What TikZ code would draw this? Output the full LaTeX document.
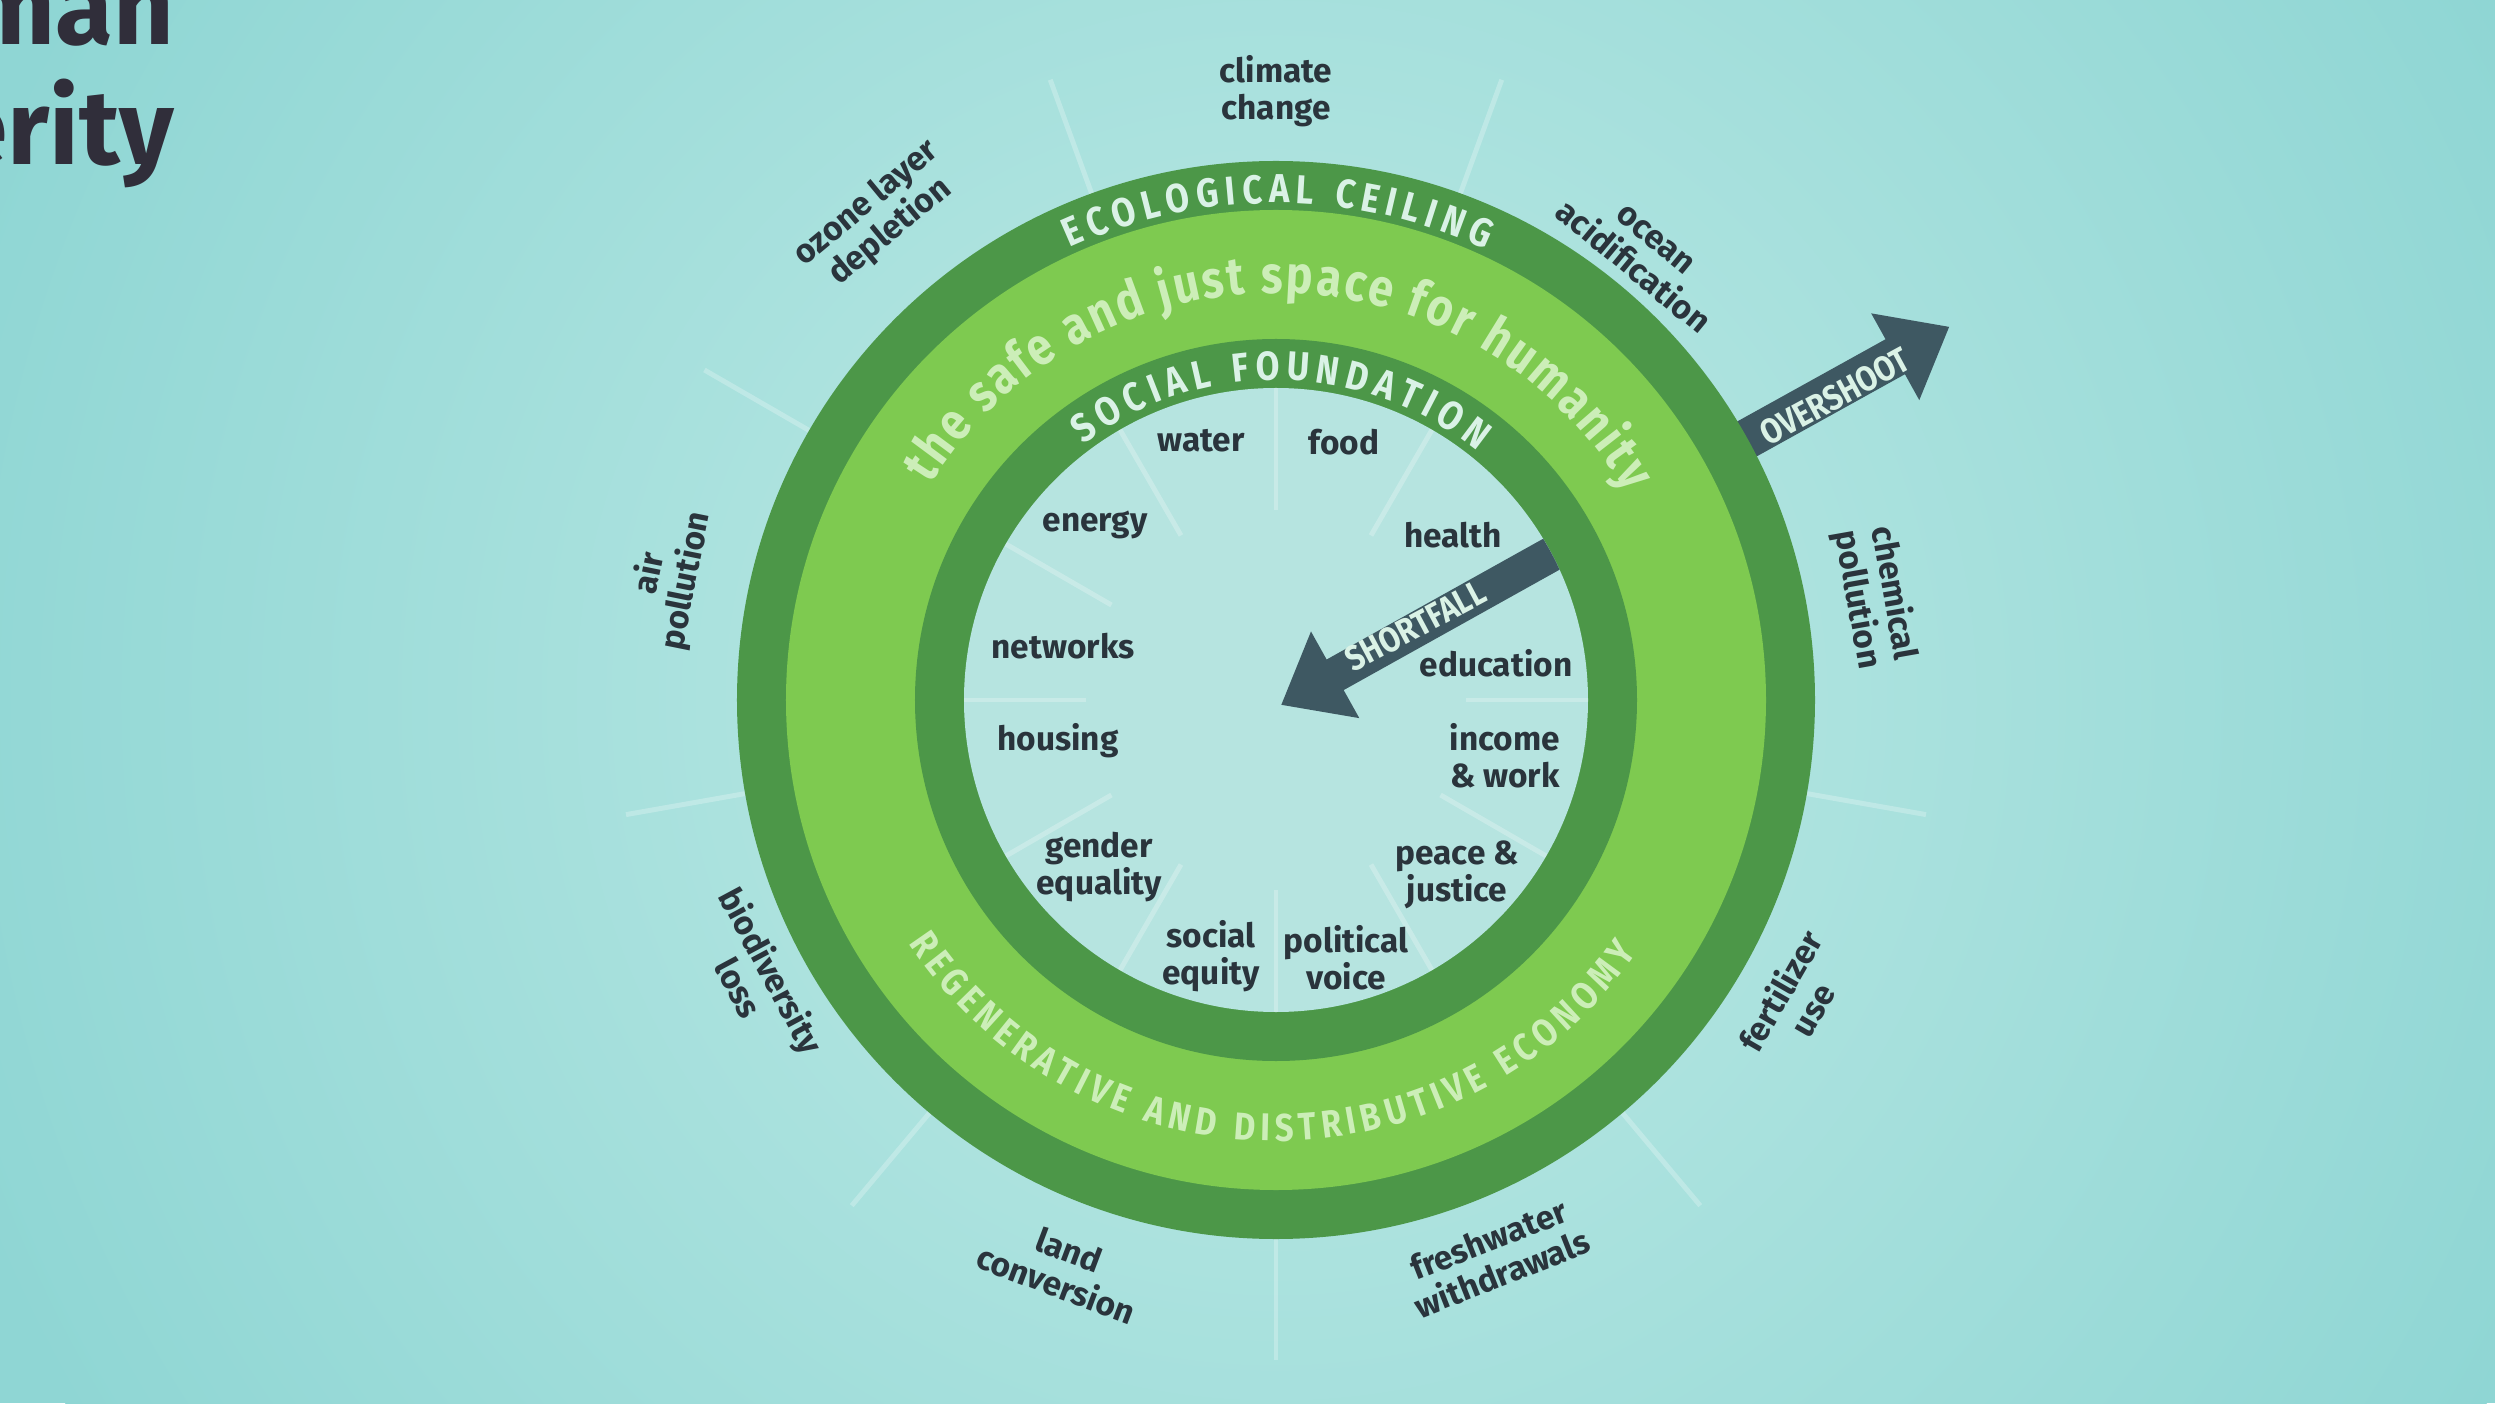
\documentclass[tikz,border=0pt]{standalone}
\usepackage{fontspec}
\setmainfont{Fira Sans}
\newfontfamily\ringfont{Fira Sans}[FakeStretch=0.85]
\usetikzlibrary{arrows.meta,decorations.text}
\definecolor{bgcyan}{RGB}{143,214,212}
\definecolor{glowcyan}{RGB}{190,234,229}
\definecolor{holecyan}{RGB}{182,228,224}
\definecolor{darkleaf}{RGB}{76,151,72}
\definecolor{lightleaf}{RGB}{126,202,80}
\definecolor{inktext}{RGB}{42,52,60}
\definecolor{ringtext}{RGB}{218,242,230}
\definecolor{safetext}{RGB}{204,238,184}
\definecolor{arrowslate}{RGB}{62,88,98}
\definecolor{titleink}{RGB}{48,46,58}
\tikzset{
  lbl/.style={font=\bfseries\fontsize{9.5}{10.5}\selectfont, text=inktext, align=center, inner sep=1pt},
  ray/.style={white, opacity=0.25, line width=1.4pt},
  fatarrow/.style={draw=arrowslate, -{Triangle[width=0.95cm,length=0.62cm]}},
  arrowtext/.style={font=\ringfont\bfseries\fontsize{10}{10}\selectfont, text=ringtext, inner sep=0pt},
  titletext/.style={font=\bfseries\fontsize{30}{30}\selectfont, text=titleink, anchor=base east, inner sep=0pt}
}
\begin{document}
\begin{tikzpicture}
  % page, centre of the doughnut at (0,0)
  \useasboundingbox (-12.76,-7.03) rectangle (12.19,7.00);
  \fill[bgcyan] (-12.76,-7.03) rectangle (12.19,7.00);
  \shade[inner color=glowcyan, outer color=bgcyan] (0,0) circle (14);
  % cut-off slide title
  \node[titletext] (ttlA) at (-11.01,6.55) {man};
  \node[titletext] (ttlB) at (-11.01,5.35) {erity};
  % faint dividers between the ceiling labels
  \foreach \a in {70,30,...,-250}
    \draw[ray] (\a:5.2) -- (\a:6.6);
  % overshoot arrow (tail hidden under the ring)
  \coordinate (ovA) at (29:5.1);
  \coordinate (ovB) at (29:7.7);
  \draw[fatarrow, line width=0.4cm] (ovA) -- (ovB);
  % the doughnut
  \coordinate (ctr) at (0,0);
  \fill[darkleaf] (ctr) circle (5.39);
  \fill[lightleaf] (ctr) circle (4.90);
  \fill[darkleaf] (ctr) circle (3.61);
  \fill[holecyan] (ctr) circle (3.12);
  % faint dividers between the social labels
  \foreach \a in {0,30,...,330}
    \draw[ray] (\a:1.9) -- (\a:3.12);
  % shortfall arrow
  \begin{scope}
    \clip (ctr) circle (3.12);
    \coordinate (sfA) at (28:3.4);
    \coordinate (sfB) at (0.05,-0.05);
    \draw[fatarrow, line width=0.35cm] (sfA) -- (sfB);
  \end{scope}
  \node[arrowtext, rotate=28] (sfTxt) at (28:1.58) {SHORTFALL};
  \node[arrowtext, rotate=28.5] (ovTxt) at (28.5:6.36) {OVERSHOOT};
  % ring titles
  \path[decorate, decoration={text along path, text align={fit to path}, text color=ringtext,
      text={|\ringfont\bfseries\fontsize{11.5}{11.5}\selectfont|ECOLOGICAL CEILING}}]
    (114.5:4.97) arc[start angle=114.5, end angle=65, radius=4.97];
  \path[decorate, decoration={text along path, text align={fit to path}, text color=safetext,
      text={|\ringfont\bfseries\fontsize{15}{15}\selectfont|the safe and just space for humanity}}]
    (148:4.07) arc[start angle=148, end angle=30.6, radius=4.07];
  \path[decorate, decoration={text along path, text align={fit to path}, text color=ringtext,
      text={|\ringfont\bfseries\fontsize{11.5}{11.5}\selectfont|SOCIAL FOUNDATION}}]
    (127:3.2) arc[start angle=127, end angle=51, radius=3.2];
  \path[decorate, decoration={text along path, text align={fit to path}, text color=safetext,
      text={|\ringfont\bfseries\fontsize{11}{11}\selectfont|REGENERATIVE AND DISTRIBUTIVE ECONOMY}}]
    (-146.5:4.41) arc[start angle=-146.5, end angle=-35, radius=4.41];
  % social foundation
  \node[lbl] (water) at (-0.75,2.59) {water};
  \node[lbl] (food) at (0.68,2.58) {food};
  \node[lbl] (health) at (1.77,1.65) {health};
  \node[lbl] (educ) at (2.20,0.37) {education};
  \node[lbl] (income) at (2.29,-0.56) {income\\\& work};
  \node[lbl] (peace) at (1.81,-1.75) {peace \&\\justice};
  \node[lbl] (voice) at (0.70,-2.58) {political\\voice};
  \node[lbl] (equity) at (-0.65,-2.56) {social\\equity};
  \node[lbl] (gender) at (-1.77,-1.67) {gender\\equality};
  \node[lbl] (housing) at (-2.18,-0.41) {housing};
  \node[lbl] (netw) at (-2.13,0.54) {networks};
  \node[lbl] (energy) at (-1.81,1.75) {energy};
  % ecological ceiling
  \node[lbl] (climate) at (90:6.09) {climate\\change};
  \node[lbl, rotate=-39.5] (ocean) at (50.5:5.78) {ocean\\acidification};
  \node[lbl, rotate=-80] (chem) at (9.8:6.08) {chemical\\pollution};
  \node[lbl, rotate=60] (fert) at (-30:6.0) {fertilizer\\use};
  \node[lbl, rotate=21.5] (fresh) at (-68.5:5.98) {freshwater\\withdrawals};
  \node[lbl, rotate=-20.6] (land) at (-110.6:6.06) {land\\conversion};
  \node[lbl, rotate=-61.8] (biodiv) at (-151.8:5.90) {biodiversity\\loss};
  \node[lbl, rotate=78.6] (air) at (168.6:6.2) {air\\pollution};
  \node[lbl, rotate=39.6] (ozone) at (129.5:6.25) {ozone layer\\depletion};
\end{tikzpicture}
\end{document}
